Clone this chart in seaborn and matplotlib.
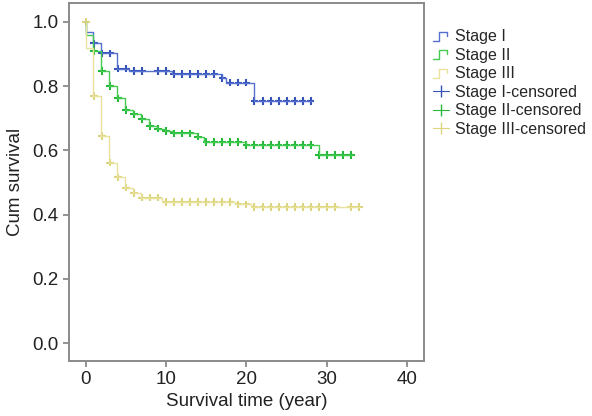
import numpy as np
import pandas as pd
import matplotlib
matplotlib.use('Agg')
import matplotlib.pyplot as plt
import seaborn as sns
from matplotlib.lines import Line2D
from matplotlib.legend_handler import HandlerBase

# Kaplan-Meier step values
stage1_times = [0, 0.05, 0.9, 1.9, 3.9, 5.4, 10.7, 16.9, 17.5, 20.9, 28.2]
stage1_surv = [1.0, 0.970, 0.933, 0.902, 0.855, 0.847, 0.838, 0.824, 0.811, 0.754, 0.754]
stage1_cens = [1, 2, 3, 4, 5, 6, 7, 9, 10, 11, 12, 13, 14, 15, 16, 17, 18, 19, 20,
               21, 22, 23, 24, 25, 26, 27, 28]

stage2_times = [0, 0.05, 0.9, 1.9, 2.9, 3.9, 4.9, 5.9, 6.9, 7.9, 8.9, 9.9, 10.9,
                13.8, 14.7, 19.9, 29.0, 33.2]
stage2_surv = [1.0, 0.960, 0.910, 0.848, 0.800, 0.762, 0.726, 0.712, 0.697, 0.676,
               0.668, 0.660, 0.653, 0.643, 0.627, 0.617, 0.586, 0.586]
stage2_cens = [1, 2, 3, 4, 5, 6, 7, 8, 9, 10, 11, 12, 13, 14, 15, 16, 17, 18, 19, 20,
               21, 22, 23, 24, 25, 26, 27, 28, 29, 30, 31, 32, 33]

stage3_times = [0, 0.05, 0.9, 1.9, 2.9, 3.9, 4.9, 5.9, 6.9, 9.5, 18.6, 20.6, 34.2]
stage3_surv = [1.0, 0.918, 0.770, 0.644, 0.562, 0.516, 0.484, 0.468, 0.453, 0.440,
               0.432, 0.423, 0.423]
stage3_cens = [0, 1, 2, 3, 4, 5, 6, 7, 8, 9, 10, 11, 12, 13, 14, 15, 16, 17, 18, 19,
               20, 21, 22, 23, 24, 25, 26, 27, 28, 29, 30, 31, 33, 34]

stages = ['Stage I', 'Stage II', 'Stage III']
line_cols = {'Stage I': '#5670cf', 'Stage II': '#45cb52', 'Stage III': '#e8e29c'}
cens_cols = {'Stage I': '#3552b8', 'Stage II': '#25b83a', 'Stage III': '#dcd47e'}

data = {'Stage I': (stage1_times, stage1_surv, stage1_cens),
        'Stage II': (stage2_times, stage2_surv, stage2_cens),
        'Stage III': (stage3_times, stage3_surv, stage3_cens)}

steps = []
cens = []
for s in stages:
    t, sv, c = data[s]
    steps.append(pd.DataFrame({'time': t, 'surv': sv, 'stage': s}))
    idx = np.searchsorted(t, c, side='right') - 1
    cens.append(pd.DataFrame({'time': c, 'surv': np.array(sv)[idx], 'stage': s}))
df_steps = pd.concat(steps, ignore_index=True)
df_cens = pd.concat(cens, ignore_index=True)


# little step glyph like the SPSS legend
class StepHandler(HandlerBase):
    def create_artists(self, legend, orig_handle, xdescent, ydescent, width, height,
                       fontsize, trans):
        x0 = -xdescent
        y0 = -ydescent + height * 0.05
        y1 = -ydescent + height * 0.85
        xs = [x0, x0 + width * 0.4, x0 + width * 0.4, x0 + width * 0.92, x0 + width * 0.92]
        ys = [y0, y0, y1, y1, y0 + height * 0.45]
        ln = Line2D(xs, ys, color=orig_handle.get_color(), lw=orig_handle.get_linewidth(),
                    transform=trans)
        return [ln]


sns.set_style('white')
plt.rcParams['font.family'] = ['Liberation Sans', 'DejaVu Sans']

fig = plt.figure(figsize=(5.92, 4.16), dpi=100)
ax = fig.add_axes([0.1166, 0.1322, 0.5994, 0.8613])

sns.lineplot(data=df_steps, x='time', y='surv', hue='stage', palette=line_cols,
             drawstyle='steps-post', estimator=None, sort=False, linewidth=1.0,
             legend=False, ax=ax)
sns.scatterplot(data=df_cens, x='time', y='surv', hue='stage', palette=cens_cols,
                marker='+', s=30, linewidth=1.5, legend=False, ax=ax)

ax.set_xlim(-2.1, 42.1)
ax.set_ylim(-0.056, 1.06)
ax.set_xticks([0, 10, 20, 30, 40])
ax.set_yticks([0.0, 0.2, 0.4, 0.6, 0.8, 1.0])
ax.set_yticklabels(['0.0', '0.2', '0.4', '0.6', '0.8', '1.0'])
ax.set_xlabel('Survival time (year)', fontsize=13.5, color='#222222', labelpad=3)
ax.set_ylabel('Cum survival', fontsize=13.5, color='#222222', labelpad=6)
ax.tick_params(axis='both', labelsize=13.5, colors='#222222', length=4, width=1.2,
               direction='out', left=True, bottom=True)
ax.tick_params(axis='both', color='#808080')
for sp in ax.spines.values():
    sp.set_color('#8a8a8a')
    sp.set_linewidth(1.4)

handles = []
for s in stages:
    handles.append(Line2D([], [], color=line_cols[s], lw=1.0))
for s in stages:
    handles.append(Line2D([], [], color=cens_cols[s], lw=0.8, marker='|',
                          markersize=9, markeredgewidth=1.0))
labels = stages + [s + '-censored' for s in stages]
hmap = {h: StepHandler() for h in handles[:3]}
fig.legend(handles, labels, loc='upper left', bbox_to_anchor=(0.72, 0.945),
           frameon=False, fontsize=11.5, handlelength=1.0, handletextpad=0.4,
           labelspacing=0.22, borderaxespad=0, handler_map=hmap)

fig.savefig('out.png', dpi=100)
